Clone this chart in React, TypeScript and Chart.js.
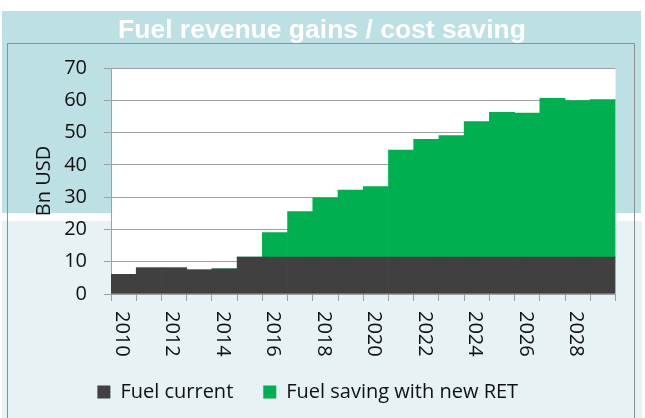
import { useEffect, useRef } from "react";
import { Chart, registerables } from "chart.js";

Chart.register(...registerables);

const years = [
  "2010", "2011", "2012", "2013", "2014", "2015", "2016", "2017", "2018", "2019",
  "2020", "2021", "2022", "2023", "2024", "2025", "2026", "2027", "2028", "2029",
];
const fuelCurrent = [6.1, 8.1, 8.1, 7.5, 7.8, 11.4, 11.4, 11.4, 11.4, 11.4, 11.4, 11.4, 11.4, 11.4, 11.4, 11.4, 11.4, 11.4, 11.4, 11.4];
const fuelSaving = [0, 0, 0, 0, 0, 0, 7.6, 14.1, 18.4, 20.8, 21.9, 33.2, 36.5, 37.7, 42.0, 44.9, 44.6, 49.2, 48.5, 48.8];
const yMin = 0;
const yMax = 70;
const yStep = 10;

const titleText = "Fuel revenue gains / cost saving";
const yTitle = "Bn USD";
const seriesNames = ["Fuel current", "Fuel saving with new RET"];

const W = 645;
const H = 418;
const FONT = "'Open Sans', 'DejaVu Sans', sans-serif";

const backgroundPlugin = {
  id: "bg",
  beforeDraw(chart: any) {
    const ctx = chart.ctx;
    const a = chart.chartArea;
    ctx.save();
    ctx.fillStyle = "#ffffff";
    ctx.fillRect(0, 0, W, H);
    ctx.fillStyle = "#bce0e3";
    ctx.fillRect(2, 11, 639, 202);
    ctx.fillStyle = "#e6f2f3";
    ctx.fillRect(2, 221, 640, 197);
    ctx.strokeStyle = "#8f8f8f";
    ctx.lineWidth = 1;
    ctx.beginPath();
    ctx.moveTo(7.5, H);
    ctx.lineTo(7.5, 43.5);
    ctx.lineTo(634.5, 43.5);
    ctx.lineTo(634.5, H);
    ctx.stroke();
    ctx.fillStyle = "#ffffff";
    ctx.fillRect(a.left, a.top, a.right - a.left, a.bottom - a.top);
    // chart title
    ctx.fillStyle = "#ffffff";
    ctx.font = `bold 26.5px 'Liberation Sans', Arial, sans-serif`;
    ctx.textAlign = "center";
    ctx.textBaseline = "middle";
    ctx.fillText(titleText, 322, 31);
    ctx.restore();
  },
};

const xLabelPlugin = {
  id: "xlabels",
  afterDraw(chart: any) {
    const ctx = chart.ctx;
    const xs = chart.scales.x;
    ctx.save();
    ctx.font = `20px ${FONT}`;
    ctx.fillStyle = "#111111";
    ctx.textAlign = "left";
    ctx.textBaseline = "middle";
    years.forEach((label, i) => {
      if (i % 2 !== 0) return;
      const x = xs.getPixelForValue(i) - 2;
      ctx.save();
      ctx.translate(x, chart.chartArea.bottom + 17);
      ctx.rotate(Math.PI / 2);
      ctx.fillText(label, 0, 0);
      ctx.restore();
    });
    ctx.restore();
  },
};

export default function App() {
  const ref = useRef<HTMLCanvasElement | null>(null);

  useEffect(() => {
    if (!ref.current) return;
    const chart = new Chart(ref.current, {
      type: "bar",
      data: {
        labels: years,
        datasets: [
          {
            label: seriesNames[0],
            data: fuelCurrent,
            backgroundColor: "#404040",
            borderWidth: 0,
            barPercentage: 1,
            categoryPercentage: 1,
          },
          {
            label: seriesNames[1],
            data: fuelSaving,
            backgroundColor: "#00b050",
            borderWidth: 0,
            barPercentage: 1,
            categoryPercentage: 1,
          },
        ],
      },
      options: {
        responsive: false,
        animation: false,
        layout: { padding: { left: 0, right: 29.5, top: 68, bottom: 6 } },
        plugins: {
          title: { display: false },
          legend: {
            display: true,
            position: "bottom",
            labels: {
              font: { family: FONT, size: 20 },
              color: "#111111",
              boxWidth: 13,
              boxHeight: 13,
              padding: 30,
            },
          },
          tooltip: { enabled: false },
        },
        scales: {
          x: {
            stacked: true,
            offset: true,
            grid: {
              offset: true,
              drawOnChartArea: false,
              drawTicks: true,
              tickLength: 7,
              color: "#a0a0a0",
            },
            border: { display: true, color: "#a0a0a0" },
            ticks: { display: false, autoSkip: false },
            afterFit: (s: any) => {
              s.height = 58;
            },
          },
          y: {
            stacked: true,
            min: yMin,
            max: yMax,
            ticks: {
              stepSize: yStep,
              font: { family: FONT, size: 20 },
              color: "#111111",
              padding: 17,
            },
            grid: { color: "#a0a0a0", tickLength: 7 },
            border: { display: true, color: "#a0a0a0" },
            title: {
              display: true,
              text: yTitle,
              color: "#111111",
              font: { family: FONT, size: 20 },
              padding: { top: 32, bottom: 0 },
            },
            afterFit: (s: any) => {
              s.width = 111;
            },
          },
        },
      },
      plugins: [backgroundPlugin, xLabelPlugin],
    });
    return () => chart.destroy();
  }, []);

  return (
    <div style={{ position: "absolute", left: 0, top: 0, width: W, height: H }}>
      <canvas ref={ref} width={W} height={H} style={{ display: "block", width: W, height: H }} />
    </div>
  );
}
